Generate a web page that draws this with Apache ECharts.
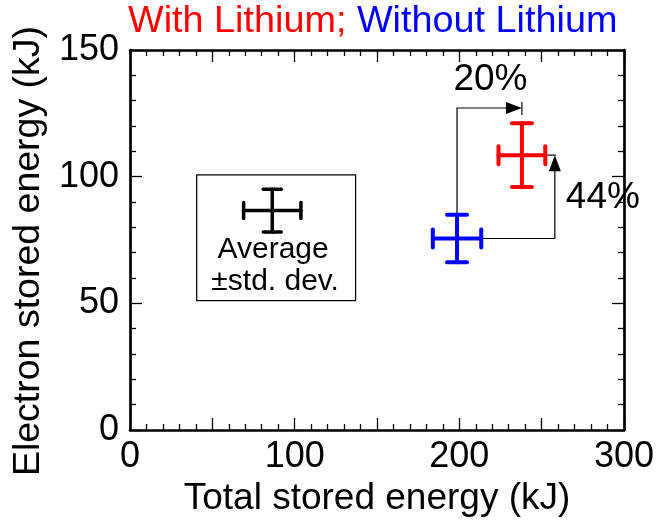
<!DOCTYPE html>
<html><head><meta charset="utf-8">
<script src="https://cdn.jsdelivr.net/npm/echarts@6/dist/echarts.min.js"></script>
<style>html,body{margin:0;padding:0;background:#fff}#c{width:667px;height:523px}</style>
</head><body><div id="c"></div>
<script>
// --- data (x, y, x std. dev., y std. dev.) ---
const seriesNames = ['With Lithium', 'Without Lithium'];
const withLithium = [238.0, 108.5, 14.2, 12.6];
const withoutLithium = [198.6, 75.6, 14.7, 9.35];
const legendSample = [86.4, 86.6, 17.4, 8.4];
const legendBox = [40.5, 100.7, 137.0, 51.1]; // x1, y1, x2, y2 (data units)
const legendLines = ['Average', '\u00b1std. dev.'];
const pctLabels = ['20%', '44%'];
const xTickLabels = [0, 100, 200, 300];
const yTickLabels = [0, 50, 100, 150];
const xAxisTitle = 'Total stored energy (kJ)';
const yAxisTitle = 'Electron stored energy (kJ)';

const FONT = '"Liberation Sans", Arial, sans-serif';
const chart = echarts.init(document.getElementById('c'), null, {renderer: 'canvas'});

function crossItems(api, v, color, lw, capH, capV) {
  const l = api.coord([v[0] - v[2], v[1]]), r = api.coord([v[0] + v[2], v[1]]);
  const t = api.coord([v[0], v[1] + v[3]]), b = api.coord([v[0], v[1] - v[3]]);
  const st = {stroke: color, lineWidth: lw, lineCap: 'round', fill: null};
  return [
    {type: 'line', shape: {x1: l[0], y1: l[1], x2: r[0], y2: r[1]}, style: st},
    {type: 'line', shape: {x1: t[0], y1: t[1], x2: b[0], y2: b[1]}, style: st},
    {type: 'line', shape: {x1: l[0], y1: l[1] - capH, x2: l[0], y2: l[1] + capH}, style: st},
    {type: 'line', shape: {x1: r[0], y1: r[1] - capH, x2: r[0], y2: r[1] + capH}, style: st},
    {type: 'line', shape: {x1: t[0] - capV, y1: t[1], x2: t[0] + capV, y2: t[1]}, style: st},
    {type: 'line', shape: {x1: b[0] - capV, y1: b[1], x2: b[0] + capV, y2: b[1]}, style: st}
  ];
}

function errRender(color) {
  return function (params, api) {
    const v = [api.value(0), api.value(1), api.value(2), api.value(3)];
    return {type: 'group', children: crossItems(api, v, color, 4, 9, 10)};
  };
}

// annotation: arrows derived from the two points
const ARROW_LEVEL_Y = 127.1;   // data y of the horizontal 20% arrow
const ARROW_LEVEL_X = 258.0;   // data x of the vertical 44% arrow
function annotRender(params, api) {
  const a = withoutLithium, b = withLithium;
  const thin = {stroke: '#000', lineWidth: 1.2, fill: null};
  const p0 = api.coord([a[0], a[1] + a[3]]);
  const p1 = api.coord([a[0], ARROW_LEVEL_Y]);
  const p2 = api.coord([b[0], ARROW_LEVEL_Y]);
  const q0 = api.coord([a[0] + a[2], a[1]]);
  const q1 = api.coord([ARROW_LEVEL_X, a[1]]);
  const q2 = api.coord([ARROW_LEVEL_X, b[1]]);
  const rRight = api.coord([b[0] + b[2], b[1]]);
  const kids = [
    {type: 'polyline', shape: {points: [p0, p1, [p2[0] - 14, p2[1]]]}, style: thin},
    {type: 'line', shape: {x1: p2[0], y1: p2[1] - 6, x2: p2[0], y2: p2[1] + 7}, style: thin},
    {type: 'polygon', shape: {points: [[p2[0], p2[1]], [p2[0] - 16, p2[1] - 6], [p2[0] - 16, p2[1] + 6]]}, style: {fill: '#000'}},
    {type: 'polyline', shape: {points: [q0, q1, [q2[0], q2[1] + 14]]}, style: thin},
    {type: 'line', shape: {x1: rRight[0], y1: rRight[1], x2: q2[0] + 1, y2: q2[1]}, style: thin},
    {type: 'polygon', shape: {points: [[q2[0], q2[1]], [q2[0] - 6, q2[1] + 16], [q2[0] + 6, q2[1] + 16]]}, style: {fill: '#000'}}
  ];
  const t1 = api.coord([(a[0] + b[0]) / 2, ARROW_LEVEL_Y]);
  kids.push({type: 'text', x: t1[0] + 1, y: t1[1] - 28, style: {text: pctLabels[0], fontSize: 37, fontFamily: FONT, fill: '#000', align: 'center', verticalAlign: 'middle'}});
  const t2 = api.coord([ARROW_LEVEL_X, (a[1] + b[1]) / 2]);
  kids.push({type: 'text', x: t2[0] + 48, y: t2[1] + 1, style: {text: pctLabels[1], fontSize: 37, fontFamily: FONT, fill: '#000', align: 'center', verticalAlign: 'middle'}});
  return {type: 'group', children: kids};
}

function legendRender(params, api) {
  const tl = api.coord([legendBox[0], legendBox[1]]);
  const br = api.coord([legendBox[2], legendBox[3]]);
  const cx = (tl[0] + br[0]) / 2;
  const kids = [
    {type: 'rect', shape: {x: tl[0], y: tl[1], width: br[0] - tl[0], height: br[1] - tl[1]}, style: {stroke: '#000', lineWidth: 1.2, fill: '#fff'}}
  ].concat(crossItems(api, legendSample, '#000', 3.5, 8, 9));
  kids.push({type: 'text', x: cx - 3, y: tl[1] + 75, style: {text: legendLines[0], fontSize: 30, fontFamily: FONT, fill: '#000', align: 'center', verticalAlign: 'middle'}});
  kids.push({type: 'text', x: cx - 1, y: tl[1] + 107, style: {text: legendLines[1], fontSize: 30, fontFamily: FONT, fill: '#000', align: 'center', verticalAlign: 'middle'}});
  return {type: 'group', children: kids};
}

const axisLine = {show: true, onZero: false, lineStyle: {color: '#000', width: 2.7}};
const axisTick = {show: true, inside: true, length: 12, lineStyle: {color: '#000', width: 1.3}};
const minorTick = {show: true, splitNumber: 5, length: 6, lineStyle: {color: '#000', width: 1.3}};

const option = {
  animation: false,
  backgroundColor: '#fff',
  title: {
    text: '{r|' + seriesNames[0] + '; }{b|' + seriesNames[1] + '}',
    left: 128, top: 3, padding: 0,
    textStyle: {fontWeight: 'normal', rich: {
      r: {color: '#ff0000', fontSize: 37.8, fontWeight: 'normal', fontFamily: FONT},
      b: {color: '#0000ff', fontSize: 37.8, fontWeight: 'normal', fontFamily: FONT}
    }}
  },
  grid: {left: 130, right: 43, top: 50, bottom: 93, containLabel: false},
  xAxis: [{
    type: 'value', min: 0, max: 300, interval: 50,
    name: xAxisTitle, nameLocation: 'middle', nameGap: 46,
    nameTextStyle: {fontSize: 37, fontFamily: FONT, color: '#000'},
    axisLine, axisTick, minorTick, splitLine: {show: false},
    axisLabel: {fontSize: 36, fontFamily: FONT, color: '#000', margin: 9,
      formatter: v => xTickLabels.indexOf(v) >= 0 ? String(v) : ''}
  }, {
    type: 'value', min: 0, max: 300, interval: 50, position: 'top',
    axisLine, axisTick, minorTick, splitLine: {show: false}, axisLabel: {show: false}
  }],
  yAxis: [{
    type: 'value', min: 0, max: 150, interval: 50,
    name: yAxisTitle, nameLocation: 'middle', nameGap: 77,
    nameTextStyle: {fontSize: 37.5, fontFamily: FONT, color: '#000', padding: [0, 22, 0, 0]},
    axisLine, axisTick, minorTick, splitLine: {show: false},
    axisLabel: {fontSize: 36, fontFamily: FONT, color: '#000', margin: 11,
      formatter: v => yTickLabels.indexOf(v) >= 0 ? String(v) : ''}
  }, {
    type: 'value', min: 0, max: 150, interval: 50, position: 'right',
    axisLine, axisTick, minorTick, splitLine: {show: false}, axisLabel: {show: false}
  }],
  series: [
    {type: 'custom', name: 'legend', renderItem: legendRender, data: [[legendBox[0], legendBox[1]]], clip: false, z: 2},
    {type: 'custom', name: 'annotation', renderItem: annotRender, data: [[withoutLithium[0], withoutLithium[1]]], clip: false, z: 3},
    {type: 'custom', name: seriesNames[1], renderItem: errRender('#0000ff'), data: [withoutLithium], clip: false, z: 4},
    {type: 'custom', name: seriesNames[0], renderItem: errRender('#ff0000'), data: [withLithium], clip: false, z: 4}
  ]
};
chart.setOption(option);
</script>
</body></html>
